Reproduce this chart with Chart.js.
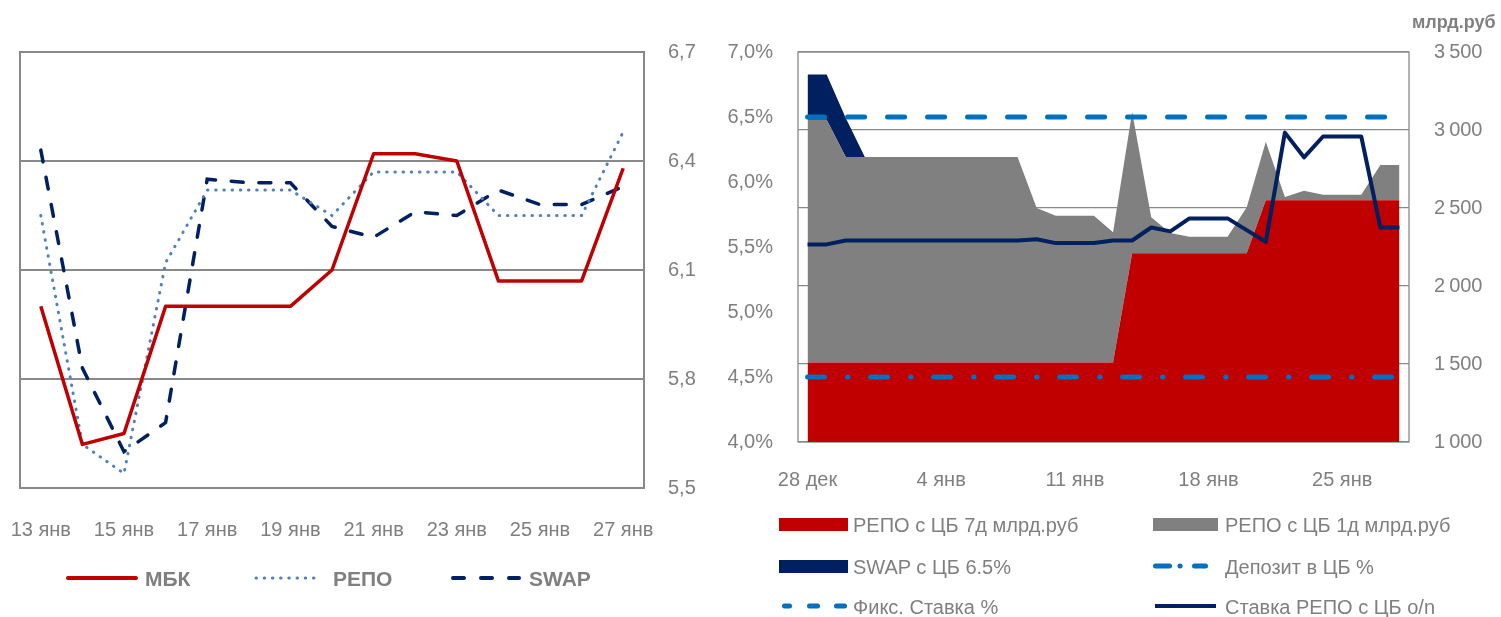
<!DOCTYPE html>
<html>
<head>
<meta charset="utf-8">
<script src="https://cdn.jsdelivr.net/npm/chart.js@4.4.0/dist/chart.umd.min.js"></script>
<style>
  body { margin: 0; background: #fff; width: 1501px; height: 617px; overflow: hidden; position: relative; }
  canvas { position: absolute; top: 0; }
  #c1 { left: 0; }
  #c2 { left: 700px; }
  #lg { position: absolute; left: 0; top: 0; pointer-events: none; font-family: "Liberation Sans", Arial, sans-serif; }
  #lg text { fill: #7f7f7f; dominant-baseline: central; }
</style>
</head>
<body>
<canvas id="c1" width="700" height="617"></canvas>
<canvas id="c2" width="801" height="617"></canvas>

<svg id="lg" width="1501" height="617">
  <!-- левая легенда -->
  <line x1="68" y1="578" x2="136" y2="578" stroke="#C00000" stroke-width="4" stroke-linecap="round"/>
  <text x="145" y="578" font-size="21" font-weight="bold">МБК</text>
  <line x1="256" y1="578" x2="316" y2="578" stroke="#4F81BD" stroke-width="3" stroke-linecap="round" stroke-dasharray="0.5 7.7"/>
  <text x="333" y="578" font-size="21" font-weight="bold">РЕПО</text>
  <line x1="453" y1="578" x2="519" y2="578" stroke="#002060" stroke-width="4" stroke-linecap="round" stroke-dasharray="11 17"/>
  <text x="529" y="578" font-size="21" font-weight="bold">SWAP</text>

  <!-- правая легенда -->
  <text x="1412" y="22" font-size="18" font-weight="bold">млрд.руб</text>
  <rect x="779" y="518" width="69" height="13" fill="#C00000"/>
  <text x="853" y="525" font-size="20">РЕПО с ЦБ 7д млрд.руб</text>
  <rect x="1153" y="518" width="65" height="13" fill="#808080"/>
  <text x="1225" y="525" font-size="20">РЕПО с ЦБ 1д млрд.руб</text>
  <rect x="779" y="560" width="69" height="13" fill="#002060"/>
  <text x="853" y="567" font-size="20">SWAP с ЦБ 6.5%</text>
  <g stroke="#0070C0" stroke-width="5" stroke-linecap="round">
    <line x1="1155.5" y1="566" x2="1169.5" y2="566"/>
    <line x1="1180" y1="566" x2="1180.1" y2="566"/>
    <line x1="1194.5" y1="566" x2="1205.5" y2="566"/>
    <line x1="784.5" y1="606" x2="789.5" y2="606"/>
    <line x1="809.5" y1="606" x2="817.5" y2="606"/>
    <line x1="836.5" y1="606" x2="844.5" y2="606"/>
  </g>
  <text x="1225" y="567" font-size="20">Депозит в ЦБ %</text>
  <text x="853" y="607" font-size="20">Фикс. Ставка %</text>
  <line x1="1155" y1="606" x2="1216" y2="606" stroke="#002060" stroke-width="4"/>
  <text x="1225" y="607" font-size="20">Ставка РЕПО с ЦБ o/n</text>
</svg>

<script>
// левый график: ставки 13-27 янв
const daysL = ['13 янв', '14 янв', '15 янв', '16 янв', '17 янв', '18 янв', '19 янв', '20 янв',
               '21 янв', '22 янв', '23 янв', '24 янв', '25 янв', '26 янв', '27 янв'];
const mbk  = [6.00, 5.62, 5.65, 6.00, 6.00, 6.00, 6.00, 6.10, 6.42, 6.42, 6.40, 6.07, 6.07, 6.07, 6.38];
const repo = [6.25, 5.62, 5.54, 6.12, 6.32, 6.32, 6.32, 6.25, 6.37, 6.37, 6.37, 6.25, 6.25, 6.25, 6.48];
const swap = [6.43, 5.83, 5.60, 5.68, 6.35, 6.34, 6.34, 6.22, 6.19, 6.26, 6.25, 6.32, 6.28, 6.28, 6.33];

// правый график: 28 дек - 28 янв
const daysR = ['28 дек', '29 дек', '30 дек', '31 дек', '1 янв', '2 янв', '3 янв', '4 янв', '5 янв', '6 янв',
               '7 янв', '8 янв', '9 янв', '10 янв', '11 янв', '12 янв', '13 янв', '14 янв', '15 янв', '16 янв',
               '17 янв', '18 янв', '19 янв', '20 янв', '21 янв', '22 янв', '23 янв', '24 янв', '25 янв', '26 янв',
               '27 янв', '28 янв'];
// млрд.руб (накопленные области)
const repo7d = [1510, 1510, 1510, 1510, 1510, 1510, 1510, 1510, 1510, 1510, 1510, 1510, 1510, 1510, 1510, 1510,
                1510, 2210, 2210, 2210, 2210, 2210, 2210, 2210, 2550, 2550, 2550, 2550, 2550, 2550, 2550, 2550];
const repo1d = [1555, 1555, 1317, 1317, 1317, 1317, 1317, 1317, 1317, 1317, 1317, 1317, 990, 940, 940, 940,
                835, 905, 230, 130, 105, 105, 105, 295, 375, 20, 60, 35, 35, 35, 225, 225];
const swap65 = [290, 290, 250, 0, 0, 0, 0, 0, 0, 0, 0, 0, 0, 0, 0, 0,
                0, 0, 0, 0, 0, 0, 0, 0, 0, 0, 0, 0, 0, 0, 0, 0];
// ставки, %
const depo = Array(32).fill(4.5);
const fix = Array(32).fill(6.5);
const repoON = [5.52, 5.52, 5.55, 5.55, 5.55, 5.55, 5.55, 5.55, 5.55, 5.55, 5.55, 5.55, 5.56, 5.53, 5.53, 5.53,
                5.55, 5.55, 5.65, 5.62, 5.72, 5.72, 5.72, 5.63, 5.54, 6.38, 6.19, 6.35, 6.35, 6.35, 5.65, 5.65];

Chart.defaults.font.family = '"Liberation Sans", Arial, sans-serif';
Chart.defaults.font.size = 20;
Chart.defaults.color = '#7f7f7f';

// рамка области построения
const frame = {
  id: 'frame',
  beforeDatasetsDraw(chart, args, opts) {
    const a = chart.chartArea, ctx = chart.ctx;
    ctx.save();
    ctx.strokeStyle = opts.color;
    ctx.lineWidth = opts.width;
    ctx.strokeRect(a.left, a.top, a.right - a.left, a.bottom - a.top);
    ctx.restore();
  }
};

const noBorder = 'rgba(0,0,0,0)';

new Chart(document.getElementById('c1'), {
  type: 'line',
  data: {
    labels: daysL,
    datasets: [
      { label: 'МБК', data: mbk, borderColor: '#C00000', borderWidth: 3.5, borderJoinStyle: 'round' },
      { label: 'РЕПО', data: repo, borderColor: '#4F81BD', borderWidth: 3, borderDash: [0.5, 7.7], borderCapStyle: 'round' },
      { label: 'SWAP', data: swap, borderColor: '#002060', borderWidth: 3.5, borderDash: [12, 15.7], borderCapStyle: 'round' }
    ]
  },
  options: {
    responsive: false,
    animation: false,
    events: [],
    layout: { padding: { top: 52, left: 20, right: 0, bottom: 0 } },
    elements: { point: { radius: 0 }, line: { tension: 0, fill: false } },
    plugins: { legend: { display: false }, tooltip: { enabled: false }, frame: { color: '#898989', width: 2 } },
    scales: {
      x: {
        offset: true,
        grid: { display: false, drawTicks: false },
        border: { display: false },
        ticks: {
          autoSkip: false, maxRotation: 0, padding: 30,
          callback: function (v, i) { return i % 2 === 0 ? this.getLabelForValue(v) : ''; }
        },
        afterFit: s => { s.height = 129; s.paddingLeft = 0; s.paddingRight = 0; }
      },
      y: {
        position: 'right', min: 5.5, max: 6.7,
        ticks: { stepSize: 0.3, padding: 24, callback: v => v.toFixed(1).replace('.', ',') },
        grid: { color: '#898989', lineWidth: 2, drawTicks: false },
        border: { display: false },
        afterFit: s => { s.width = 56; }
      }
    }
  },
  plugins: [frame]
});

new Chart(document.getElementById('c2'), {
  type: 'line',
  data: {
    labels: daysR,
    datasets: [
      { label: 'РЕПО с ЦБ 7д млрд.руб', data: repo7d, yAxisID: 'y1', backgroundColor: '#C00000', fill: 'origin',
        borderWidth: 0, borderColor: noBorder, order: 1 },
      { label: 'РЕПО с ЦБ 1д млрд.руб', data: repo1d, yAxisID: 'y1', backgroundColor: '#808080', fill: '-1',
        borderWidth: 0, borderColor: noBorder, order: 1 },
      { label: 'SWAP с ЦБ 6.5%', data: swap65, yAxisID: 'y1', backgroundColor: '#002060', fill: '-1',
        borderWidth: 0, borderColor: noBorder, order: 1 },
      { label: 'Депозит в ЦБ %', data: depo, yAxisID: 'y', borderColor: '#0070C0', borderWidth: 5,
        borderDash: [17, 23, 0.5, 22.5], borderCapStyle: 'round', fill: false, order: 0 },
      { label: 'Фикс. Ставка %', data: fix, yAxisID: 'y', borderColor: '#0070C0', borderWidth: 5,
        borderDash: [17, 23], borderCapStyle: 'round', fill: false, order: 0 },
      { label: 'Ставка РЕПО с ЦБ o/n', data: repoON, yAxisID: 'y', borderColor: '#002060', borderWidth: 4,
        borderJoinStyle: 'round', fill: false, order: 0 }
    ]
  },
  options: {
    responsive: false,
    animation: false,
    events: [],
    layout: { padding: { top: 52, left: 0, right: 0, bottom: 0 } },
    elements: { point: { radius: 0 }, line: { tension: 0 } },
    plugins: { legend: { display: false }, tooltip: { enabled: false }, frame: { color: '#898989', width: 1.3 } },
    scales: {
      x: {
        offset: true,
        grid: { display: false, drawTicks: false },
        border: { display: false },
        ticks: {
          autoSkip: false, maxRotation: 0, padding: 26,
          callback: function (v, i) { return i % 7 === 0 ? this.getLabelForValue(v) : ''; }
        },
        afterFit: s => { s.height = 175; s.paddingLeft = 0; s.paddingRight = 0; }
      },
      y: {
        position: 'left', min: 4, max: 7,
        ticks: { stepSize: 0.5, padding: 25, callback: v => v.toFixed(1).replace('.', ',') + '%' },
        grid: { display: false, drawTicks: false },
        border: { display: false },
        afterFit: s => { s.width = 98; }
      },
      y1: {
        position: 'right', stacked: true, min: 1000, max: 3500,
        ticks: { stepSize: 500, padding: 25, callback: v => String(v).replace(/\B(?=(\d{3})+$)/, '\u2009') },
        grid: { color: '#898989', lineWidth: 1.3, drawTicks: false },
        border: { display: false },
        afterFit: s => { s.width = 92; }
      }
    }
  },
  plugins: [frame]
});
</script>
</body>
</html>
